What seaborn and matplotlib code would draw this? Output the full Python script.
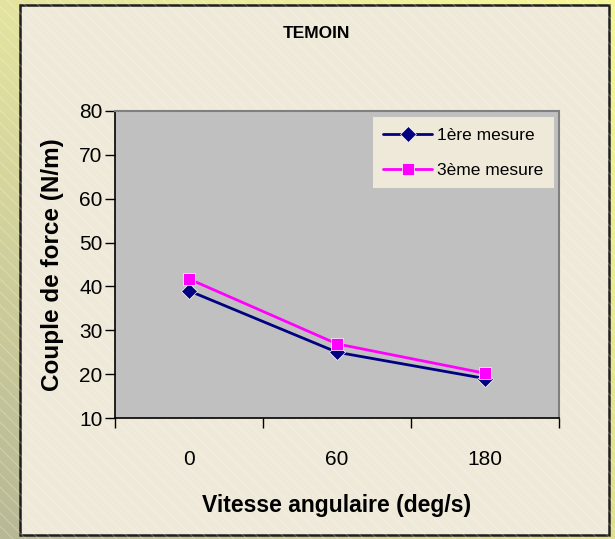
import numpy as np
import pandas as pd
import matplotlib
matplotlib.use('Agg')
import matplotlib.pyplot as plt
from matplotlib.patches import Rectangle
import seaborn as sns

# --- data ---
vitesse = ['0', '60', '180']
mesure_1 = [39.0, 25.0, 19.0]
mesure_3 = [41.7, 26.9, 20.2]
series_names = ['1ère mesure', '3ème mesure']

df = pd.DataFrame({
    'vitesse': vitesse * 2,
    'couple': mesure_1 + mesure_3,
    'serie': [series_names[0]] * 3 + [series_names[1]] * 3,
})

sns.set_style('white')
plt.rcParams['font.family'] = ['Liberation Sans', 'DejaVu Sans']
plt.rcParams['text.color'] = 'black'
plt.rcParams['axes.labelcolor'] = 'black'
plt.rcParams['xtick.color'] = 'black'
plt.rcParams['ytick.color'] = 'black'

W, H = 615, 539
fig = plt.figure(figsize=(W / 100, H / 100), dpi=100)

# outer background: olive -> yellow gradient with faint diagonal stripes
bg = fig.add_axes([0, 0, 1, 1], zorder=-10)
bg.set_xlim(0, W)
bg.set_ylim(H, 0)
bg.axis('off')
tl = np.array([228, 228, 160]) / 255
tr = np.array([247, 247, 150]) / 255
bl = np.array([184, 184, 150]) / 255
br = np.array([225, 225, 140]) / 255
u = np.linspace(0, 1, 60)[None, :, None]
v = np.linspace(0, 1, 60)[:, None, None]
grad = (1 - v) * ((1 - u) * tl + u * tr) + v * ((1 - u) * bl + u * br)
bg.imshow(grad, extent=[0, W, H, 0], aspect='auto', interpolation='bilinear')
for k in range(-H, W, 13):
    bg.plot([k, k + H], [0, H], color='white', alpha=0.25, linewidth=0.8)
# chart area
bg.add_patch(Rectangle((20, 5), 589, 530, facecolor='#EFE9D9',
                       edgecolor='#1E1E1E', linewidth=1.8))

ax = fig.add_axes([115 / W, 1 - 418 / H, 444 / W, 307 / H])
ax.set_facecolor('#C0C0C0')

sns.lineplot(data=df, x='vitesse', y='couple', hue='serie', style='serie',
             palette=['#000080', '#FF00FF'], markers=['D', 's'], dashes=False,
             markersize=8.5, markeredgewidth=0.5, linewidth=2, sort=False, ax=ax)

ax.set_xlim(-0.5, 2.5)
ax.set_ylim(10, 80)
ax.set_yticks(range(10, 81, 10))
ax.set_xticks([-0.5, 0.5, 1.5, 2.5])
ax.set_xticklabels([])
ax.set_xticks([0, 1, 2], minor=True)
ax.set_xticklabels(vitesse, minor=True)
ax.tick_params(axis='x', which='major', length=7, width=1, direction='out', bottom=True)
ax.tick_params(axis='x', which='minor', length=0, pad=23, labelsize=15)
ax.tick_params(axis='y', length=7, width=1, direction='out', left=True, labelsize=15, pad=2)

for side in ['left', 'bottom']:
    ax.spines[side].set_color('#000000')
    ax.spines[side].set_linewidth(1.2)
for side in ['top', 'right']:
    ax.spines[side].set_color('#808080')
    ax.spines[side].set_linewidth(1.5)

ax.set_xlabel('Vitesse angulaire (deg/s)', fontsize=16.5, fontweight='bold', labelpad=18)
ax.set_ylabel('Couple de force (N/m)', fontsize=17.5, fontweight='bold', labelpad=11)

leg = ax.legend(loc='upper right', bbox_to_anchor=(0.992, 0.985), fontsize=12.5,
                frameon=True, fancybox=False, facecolor='#EFE9D9', edgecolor='#EFE9D9',
                framealpha=1, borderpad=0.6, labelspacing=1.15, handlelength=2.8,
                handletextpad=0.3, borderaxespad=0.1)
leg.get_frame().set_linewidth(0)

fig.text(316 / W, 1 - 33 / H, 'TEMOIN', ha='center', va='center',
         fontsize=12.5, fontweight='bold')

fig.savefig('out.png', dpi=100)
